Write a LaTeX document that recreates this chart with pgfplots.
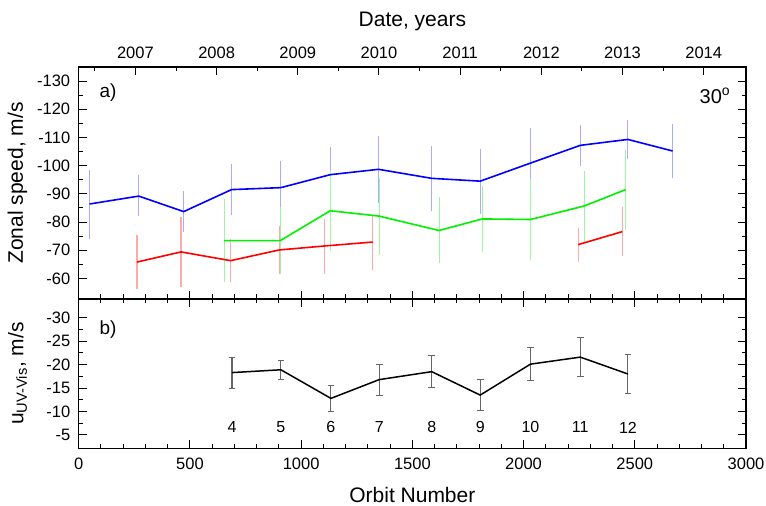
\documentclass[border=0pt]{standalone}
\usepackage{pgfplots}
\pgfplotsset{compat=1.18}
\usepackage{fontspec}
\setmainfont{Liberation Sans}
\definecolor{eblue}{RGB}{170,170,255}
\definecolor{egreen}{RGB}{160,245,160}
\definecolor{ered}{RGB}{255,170,170}
\definecolor{lgreen}{RGB}{0,240,0}
\begin{document}
\begin{tikzpicture}[x=1bp,y=1bp]
\useasboundingbox (0,0) rectangle (766,506);
\pgfplotsset{
  every axis/.append style={
    scale only axis, width=667.3bp, anchor=south west, xmin=0, xmax=3000,
    /pgf/number format/assume math mode=true,
    /pgf/number format/1000 sep={},
    tick label style={font=\fontsize{16.5bp}{19bp}\selectfont},
    label style={font=\fontsize{21bp}{24bp}\selectfont},
    axis line style={line width=1.2bp},
    tick style={line width=1bp, black},
    major tick length=8bp, minor tick length=4.5bp,
    tick align=inside,
    yticklabel style={xshift=-5bp},
    ylabel style={at={(axis description cs:-0.0917,0.5)}, anchor=center},
  },
}
% Date axis (top)
\begin{axis}[at={(78.7bp,207bp)}, height=232bp, ymin=0, ymax=1, ytick=\empty,
  xtick={255,620,985,1350,1715,2080,2445,2810},
  xticklabels={2007,2008,2009,2010,2011,2012,2013,2014},
  minor xtick={72.5,437.5,802.5,1167.5,1532.5,1897.5,2262.5,2627.5},
  xtick pos=right, xticklabel pos=right,
  xticklabel style={yshift=4.5bp},
  xlabel={Date, years},
  xlabel style={at={(axis description cs:0.5,1.198)}, anchor=center}]
\end{axis}
% Top panel
\begin{axis}[at={(78.7bp,207bp)}, height=232bp, y dir=reverse,
  ymin=-135, ymax=-52.7, ytick={-130,-120,...,-60}, minor y tick num=1,
  xtick={0,500,...,3000}, minor x tick num=4, xtick pos=left, xticklabels={},
  ylabel={Zonal speed, m/s}]
% error bars
\addplot[draw=none, forget plot, error bars/.cd, y dir=both, y explicit, error mark=none,
  error bar style={draw=eblue, line width=1.1bp}] coordinates {
(49,-86.4) += (0,12.3) -= (0,12.2)
(270,-89.2) += (0,7.1) -= (0,7.4)
(472,-83.7) += (0,7.3) -= (0,7.2)
(687,-91.5) += (0,9) -= (0,9)
(909,-92.2) += (0,9.5) -= (0,9.3)
(1131,-96.8) += (0,10.3) -= (0,9.8)
(1348,-98.7) += (0,12.1) -= (0,11.7)
(1587,-95.5) += (0,11.6) -= (0,11.3)
(1805,-94.5) += (0,11.5) -= (0,11.5)
(2031,-100.9) += (0,12) -= (0,12.3)
(2255,-107.2) += (0,7.2) -= (0,7.1)
(2469,-109.3) += (0,7) -= (0,7)
(2670,-105.2) += (0,9.7) -= (0,9.4)
};
\addplot[draw=none, forget plot, error bars/.cd, y dir=both, y explicit, error mark=none,
  error bar style={draw=egreen, line width=1.1bp}] coordinates {
(654,-73.4) += (0,14.7) -= (0,14.6)
(906,-73.4) += (0,11.8) -= (0,11.9)
(1131,-84) += (0,14.3) -= (0,14.3)
(1351,-82.1) += (0,13.7) -= (0,13.6)
(1620,-77) += (0,11.5) -= (0,11.8)
(1815,-81.1) += (0,11.7) -= (0,11.8)
(2031,-80.9) += (0,14.5) -= (0,14.4)
(2273,-85.7) += (0,12.8) -= (0,12.3)
(2459,-91.5) += (0,14.2) -= (0,13.9)
};
\addplot[draw=none, forget plot, error bars/.cd, y dir=both, y explicit, error mark=none,
  error bar style={draw=ered, line width=1.1bp}] coordinates {
(262,-65.8) += (0,9.4) -= (0,9.5)
(460,-69.4) += (0,12.4) -= (0,12.4)
(683,-66.3) += (0,7.6) -= (0,7.6)
(902,-70.1) += (0,8.4) -= (0,8.5)
(1104,-71.5) += (0,9.8) -= (0,9.4)
(1322,-72.9) += (0,9.8) -= (0,9.5)
(2246,-72) += (0,6.2) -= (0,6)
(2444,-76.6) += (0,8.5) -= (0,8.6)
};
% lines
\addplot[blue, line width=1.6bp, mark=none] coordinates {
(49,-86.4) (270,-89.2) (472,-83.7) (687,-91.5) (909,-92.2) (1131,-96.8) (1348,-98.7)
(1587,-95.5) (1805,-94.5) (2031,-100.9) (2255,-107.2) (2469,-109.3) (2670,-105.2)};
\addplot[lgreen, line width=1.6bp, mark=none] coordinates {
(654,-73.4) (906,-73.4) (1131,-84) (1351,-82.1) (1620,-77) (1815,-81.1) (2031,-80.9)
(2273,-85.7) (2459,-91.5)};
\addplot[red, line width=1.6bp, mark=none] coordinates {
(262,-65.8) (460,-69.4) (683,-66.3) (902,-70.1) (1104,-71.5) (1322,-72.9)};
\addplot[red, line width=1.6bp, mark=none] coordinates {
(2246,-72) (2444,-76.6)};
\node[font=\fontsize{19bp}{22bp}\selectfont] at (axis description cs:0.0439,0.888) {a)};
\node[font=\fontsize{20bp}{23bp}\selectfont] at (axis description cs:0.9535,0.875) {30\textsuperscript{o}};
\end{axis}
% Bottom panel
\begin{axis}[at={(78.7bp,57.7bp)}, height=149.3bp, y dir=reverse,
  ymin=-34, ymax=-2.15, ytick={-30,-25,...,-5}, minor y tick num=1,
  xtick={0,500,...,3000}, minor x tick num=4, xtick pos=both, xticklabel pos=left,
  xticklabel style={yshift=-6bp},
  xlabel={Orbit Number},
  xlabel style={at={(axis description cs:0.5,-0.3128)}, anchor=center},
  ylabel={u\textsubscript{UV-Vis}, m/s}]
\addplot[draw=none, forget plot, error bars/.cd, y dir=both, y explicit,
  error mark options={rotate=90, mark size=3.3bp, line width=1bp, draw=black!60},
  error bar style={draw=black!60, line width=1.1bp}] coordinates {
(689,-18.3) += (0,3.3) -= (0,3.2)
(909,-18.9) += (0,2.0) -= (0,1.9)
(1134,-12.8) += (0,2.9) -= (0,2.8)
(1351,-16.8) += (0,3.4) -= (0,3.3)
(1587,-18.5) += (0,3.3) -= (0,3.4)
(1805,-13.5) += (0,3.3) -= (0,3.3)
(2031,-20.1) += (0,3.5) -= (0,3.6)
(2255,-21.6) += (0,4.2) -= (0,4.2)
(2469,-18.0) += (0,4.1) -= (0,4.1)
};
\addplot[black, line width=1.5bp, mark=none] coordinates {
(689,-18.3) (909,-18.9) (1134,-12.8) (1351,-16.8) (1587,-18.5) (1805,-13.5)
(2031,-20.1) (2255,-21.6) (2469,-18.0)};
\addplot[draw=none, mark=none, nodes near coords, point meta=explicit symbolic,
  every node near coord/.style={anchor=center, font=\fontsize{16bp}{19bp}\selectfont}]
  table[meta=lab] {
x y lab
689 -6.6 4
909 -6.6 5
1134 -6.6 6
1351 -6.6 7
1587 -6.6 8
1805 -6.6 9
2031 -6.6 10
2255 -6.6 11
2469 -6.6 12
};
\node[font=\fontsize{19bp}{22bp}\selectfont] at (axis description cs:0.0439,0.794) {b)};
\end{axis}
\end{tikzpicture}
\end{document}
